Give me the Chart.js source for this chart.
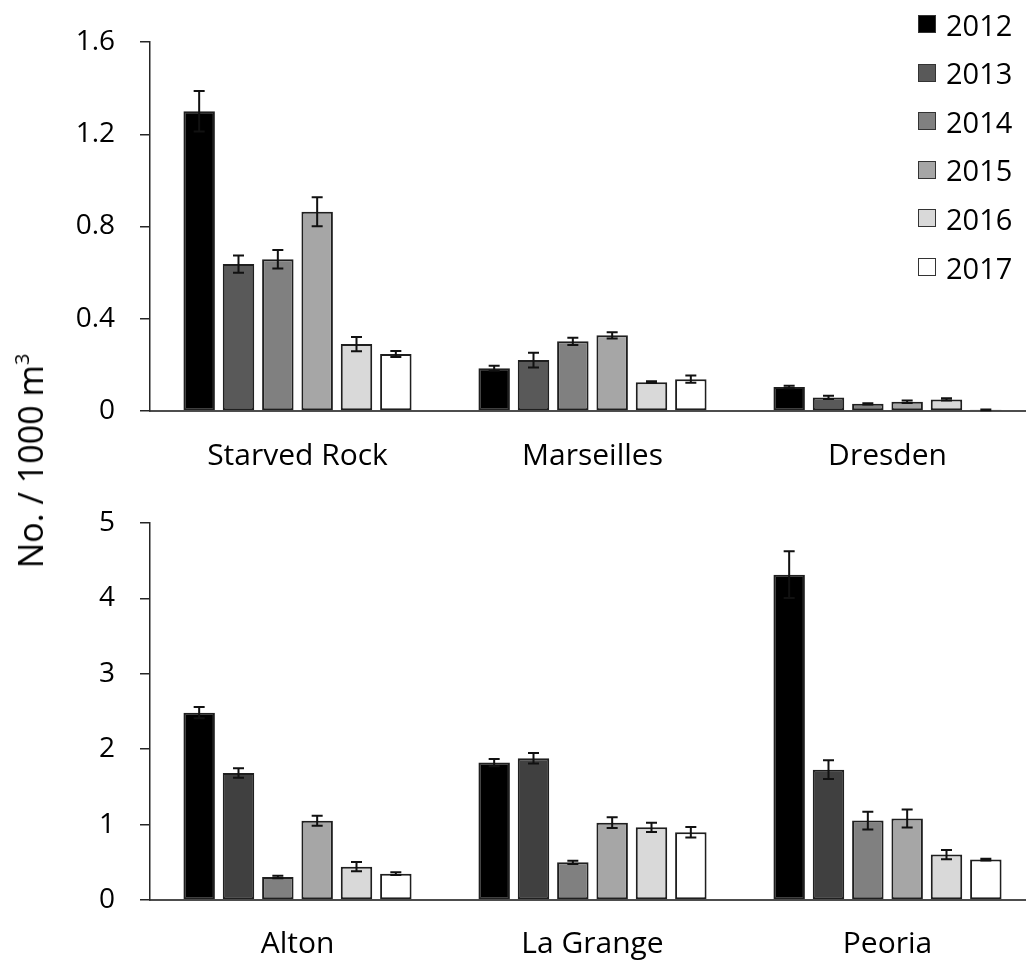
<!DOCTYPE html>
<html>
<head>
<meta charset="utf-8">
<script src="https://cdn.jsdelivr.net/npm/chart.js@4.4.1/dist/chart.umd.min.js"></script>
<style>
  html, body { margin: 0; padding: 0; background: #fff; overflow: hidden; }
  #wrap { position: relative; width: 1026px; height: 961px; overflow: hidden; font-family: 'Open Sans', sans-serif; }
  canvas { position: absolute; left: 0; }
  #topChart { top: 0; }
  #bottomChart { top: 480px; }
  #ytitle {
    position: absolute; left: 30px; top: 461px;
    transform: translate(-50%, -50%) rotate(-90deg);
    font-size: 34px; white-space: nowrap; color: #000;
  }
  #ytitle sup { font-size: 20px; vertical-align: 14px; line-height: 0; }
  #legend { position: absolute; left: 918px; top: 0; }
  .row { position: absolute; left: 0; height: 40px; display: flex; align-items: center; white-space: nowrap; font-size: 29px; color: #000; }
  .box { width: 16px; height: 16px; border: 1px solid #333; margin-right: 10px; }
</style>
</head>
<body>
<div id="wrap">
  <canvas id="topChart" width="1040" height="480"></canvas>
  <canvas id="bottomChart" width="1040" height="481"></canvas>
  <div id="ytitle">No. / 1000 m<sup>3</sup></div>
  <div id="legend"></div>
</div>
<script>
// years (series)
const years = ['2012', '2013', '2014', '2015', '2016', '2017'];

// upper panel sites and values (rows = years, cols = sites)
const topSites = ['Starved Rock', 'Marseilles', 'Dresden'];
const topValues = [
  [1.30, 0.185, 0.104],
  [0.637, 0.221, 0.059],
  [0.658, 0.302, 0.031],
  [0.864, 0.328, 0.040],
  [0.290, 0.125, 0.050],
  [0.247, 0.138, 0.005]
];
const topErrors = [
  [0.088, 0.011, 0.005],
  [0.037, 0.032, 0.007],
  [0.040, 0.016, 0.003],
  [0.063, 0.014, 0.005],
  [0.031, 0.004, 0.005],
  [0.013, 0.016, 0.002]
];
const topTicks = [0, 0.4, 0.8, 1.2, 1.6];

// lower panel sites and values
const bottomSites = ['Alton', 'La Grange', 'Peoria'];
const bottomValues = [
  [2.484, 1.823, 4.314],
  [1.684, 1.879, 1.729],
  [0.305, 0.500, 1.053],
  [1.052, 1.026, 1.080],
  [0.442, 0.964, 0.602],
  [0.349, 0.898, 0.536]
];
const bottomErrors = [
  [0.075, 0.048, 0.31],
  [0.063, 0.070, 0.124],
  [0.015, 0.022, 0.119],
  [0.066, 0.071, 0.119],
  [0.062, 0.062, 0.061],
  [0.018, 0.070, 0.012]
];
const bottomTicks = [0, 1, 2, 3, 4, 5];

const topColors = ['#000000', '#595959', '#808080', '#a6a6a6', '#d9d9d9', '#ffffff'];
const bottomColors = ['#000000', '#404040', '#808080', '#a6a6a6', '#d9d9d9', '#ffffff'];

Chart.defaults.font.family = "'Open Sans', sans-serif";
Chart.defaults.color = '#000';

// draws the +/- error whiskers on every bar
const errorBars = {
  id: 'errorBars',
  afterDatasetsDraw(chart) {
    const ctx = chart.ctx;
    const y = chart.scales.y;
    ctx.save();
    ctx.strokeStyle = '#111';
    ctx.lineWidth = 2;
    chart.data.datasets.forEach((ds, di) => {
      const meta = chart.getDatasetMeta(di);
      meta.data.forEach((bar, i) => {
        const v = ds.data[i], e = ds.errors[i];
        const y1 = y.getPixelForValue(v + e), y2 = y.getPixelForValue(v - e);
        ctx.beginPath();
        ctx.moveTo(bar.x, y1); ctx.lineTo(bar.x, y2);
        ctx.moveTo(bar.x - 5.5, y1); ctx.lineTo(bar.x + 5.5, y1);
        ctx.moveTo(bar.x - 5.5, y2); ctx.lineTo(bar.x + 5.5, y2);
        ctx.stroke();
      });
    });
    ctx.restore();
  }
};

function makeChart(id, sites, values, errors, ticks, colors, padTop, xHeight, labelPad) {
  new Chart(document.getElementById(id), {
    type: 'bar',
    data: {
      labels: sites,
      datasets: years.map((yr, k) => ({
        label: yr,
        data: values[k],
        errors: errors[k],
        backgroundColor: colors[k],
        borderColor: '#1f1f1f',
        borderWidth: 2,
        borderSkipped: false,
        categoryPercentage: 0.8,
        barPercentage: 0.8
      }))
    },
    options: {
      responsive: false,
      animation: false,
      layout: { padding: { top: padTop, right: 5, bottom: 0, left: 0 } },
      plugins: { legend: { display: false }, tooltip: { enabled: false } },
      scales: {
        x: {
          grid: { display: false, drawTicks: false },
          border: { display: true, color: '#4d4d4d', width: 2 },
          ticks: { font: { size: 30 }, padding: labelPad, color: '#000' },
          afterFit(s) { s.height = xHeight; }
        },
        y: {
          min: ticks[0],
          max: ticks[ticks.length - 1],
          afterBuildTicks(s) { s.ticks = ticks.map(v => ({ value: v })); },
          grid: { display: true, drawOnChartArea: false, drawTicks: true, tickLength: 10, color: '#262626', lineWidth: 1.5 },
          border: { display: true, color: '#262626', width: 1.5 },
          ticks: { font: { size: 28 }, padding: 25, color: '#000' },
          afterFit(s) { s.width = 150; }
        }
      }
    },
    plugins: [errorBars]
  });
}

makeChart('topChart', topSites, topValues, topErrors, topTicks, topColors, 42, 69, 27);
makeChart('bottomChart', bottomSites, bottomValues, bottomErrors, bottomTicks, bottomColors, 43, 61, 26);

// legend
const legend = document.getElementById('legend');
years.forEach((yr, k) => {
  const row = document.createElement('div');
  row.className = 'row';
  row.style.top = (4 + k * 48.6) + 'px';
  const box = document.createElement('div');
  box.className = 'box';
  box.style.background = topColors[k];
  const txt = document.createElement('span');
  txt.textContent = yr;
  row.appendChild(box);
  row.appendChild(txt);
  legend.appendChild(row);
});
</script>
</body>
</html>
